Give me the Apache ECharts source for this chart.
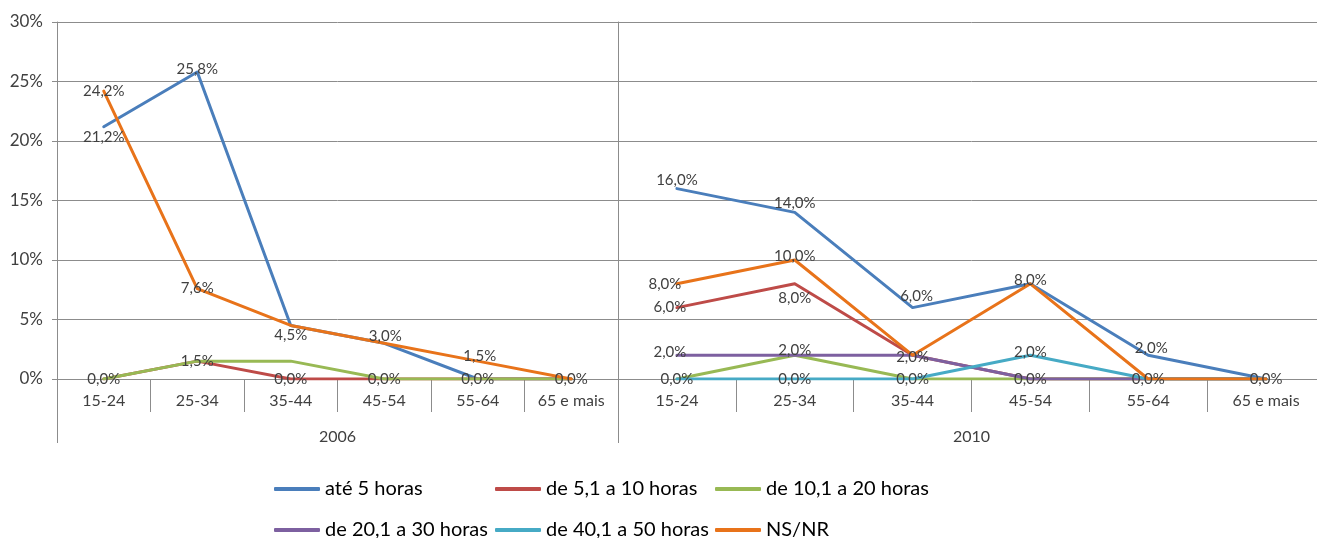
<!DOCTYPE html>
<html>
<head>
<meta charset="utf-8">
<title>Horas por faixa etária — 2006 e 2010</title>
<script src="https://cdn.jsdelivr.net/npm/echarts@6/dist/echarts.min.js"></script>
<style>
  html, body { margin: 0; padding: 0; background: #ffffff; overflow: hidden; }
  /* the 2010 panel runs a few pixels past the right edge of the window */
  #chart { width: 1326px; height: 538px; }
</style>
</head>
<body>
<div id="chart"></div>
<script>
// Age groups (shared by both years)
const ageGroups = ['15-24', '25-34', '35-44', '45-54', '55-64', '65 e mais'];
const years = ['2006', '2010'];
const seriesNames = ['até 5 horas', 'de 5,1 a 10 horas', 'de 10,1 a 20 horas',
                     'de 20,1 a 30 horas', 'de 40,1 a 50 horas', 'NS/NR'];

// Percent values per series, 2006
const ate5_2006    = [21.2, 25.8, 4.5, 3.0, 0.0, 0.0];
const de5a10_2006  = [0.0, 1.5, 0.0, 0.0, 0.0, 0.0];
const de10a20_2006 = [0.0, 1.5, 1.5, 0.0, 0.0, 0.0];
const de20a30_2006 = [null, null, null, null, null, null];
const de40a50_2006 = [null, null, null, null, null, null];
const nsnr_2006    = [24.2, 7.6, 4.5, 3.0, 1.5, 0.0];

// Percent values per series, 2010
const ate5_2010    = [16.0, 14.0, 6.0, 8.0, 2.0, 0.0];
const de5a10_2010  = [6.0, 8.0, 2.0, 0.0, 0.0, 0.0];
const de10a20_2010 = [0.0, 2.0, 0.0, 0.0, 0.0, 0.0];
const de20a30_2010 = [2.0, 2.0, 2.0, 0.0, 0.0, 0.0];
const de40a50_2010 = [0.0, 0.0, 0.0, 2.0, 0.0, 0.0];
const nsnr_2010    = [8.0, 10.0, 2.0, 8.0, 0.0, 0.0];

// Y axis ticks (percent)
const yTicks = [0, 5, 10, 15, 20, 25, 30];

const valuesByYear = [
  [ate5_2006, de5a10_2006, de10a20_2006, de20a30_2006, de40a50_2006, nsnr_2006],
  [ate5_2010, de5a10_2010, de10a20_2010, de20a30_2010, de40a50_2010, nsnr_2010]
];

const colors = ['#4A7EBB', '#BE4B48', '#98B954', '#7D60A0', '#46AAC5', '#E8731A'];
const labelled = [true, true, false, true, true, true];

// Layout of the two panels
const TOP = 22, PLOT_H = 357;
const P1_LEFT = 57, P1_W = 561;
const P2_LEFT = 618, P2_W = 707;
const AXIS_EXT = 64;          // how far the panel borders run below the axis
const FONT = 'Lato, "Open Sans", sans-serif';
const AXIS_GRAY = '#8C8C8C';
const TEXT_GRAY = '#404040';

// Nudges for data labels that would otherwise collide, keyed "year:index:value"
const labelNudge = {
  '0:0:21.2': [0, 10], '0:1:25.8': [0, -3], '0:2:4.5': [0, 10], '0:3:3': [1, -7],
  '0:4:1.5': [2, -5],
  '1:0:16': [0, -8], '1:1:14': [0, -9], '1:2:6': [4, -11], '1:3:8': [0, -4],
  '1:4:2': [3, -7], '1:0:8': [-12, 0], '1:1:10': [0, -4], '1:2:2': [0, 2],
  '1:0:6': [-7, 0], '1:0:2': [-7, -3], '1:1:2': [0, -5], '1:3:2': [0, -3]
};
// Red series 8,0% at 25-34 sits below its point
const seriesNudge = { '1:1:1:8': [0, 14] };

function fmt(v) { return v.toFixed(1).replace('.', ',') + '%'; }

const series = [];
years.forEach((yr, g) => {
  const shown = new Set();   // one label per coinciding point
  valuesByYear[g].forEach((vals, s) => {
    if (vals.every(v => v === null)) return;
    series.push({
      name: seriesNames[s],
      type: 'line',
      xAxisIndex: g,
      yAxisIndex: g,
      symbol: 'circle',
      symbolSize: 0.1,
      showSymbol: true,
      lineStyle: { width: 3, color: colors[s], cap: 'round', join: 'round' },
      itemStyle: { color: colors[s] },
      emphasis: { disabled: true },
      animation: false,
      label: {
        show: false,
        position: 'inside',
        color: TEXT_GRAY,
        fontFamily: FONT,
        fontSize: 15,
        formatter: p => (p.value == null ? '' : fmt(p.value))
      },
      data: vals.map((v, i) => {
        const pointKey = g + ':' + i + ':' + v;
        let show = labelled[s] && v !== null && !shown.has(pointKey);
        if (show) shown.add(pointKey);
        const off = seriesNudge[g + ':' + s + ':' + i + ':' + v] || labelNudge[pointKey] || [0, 0];
        return { value: v, label: { show: show, offset: off } };
      })
    });
  });
});

function xAxisFor(g, yr) {
  return {
    type: 'category',
    gridIndex: g,
    data: ageGroups,
    boundaryGap: true,
    name: yr,
    nameLocation: 'middle',
    nameGap: 50,
    nameTextStyle: { color: TEXT_GRAY, fontFamily: FONT, fontSize: 16 },
    axisLine: { show: true, lineStyle: { color: AXIS_GRAY, width: 1 } },
    axisTick: { show: true, interval: 0, length: 33, lineStyle: { color: AXIS_GRAY } },
    axisLabel: { interval: 0, color: TEXT_GRAY, fontFamily: FONT, fontSize: 16, margin: 14 },
    splitLine: { show: false }
  };
}

function yAxisFor(g) {
  return {
    type: 'value',
    gridIndex: g,
    min: yTicks[0],
    max: yTicks[yTicks.length - 1],
    interval: 5,
    axisLine: { show: true, lineStyle: { color: AXIS_GRAY, width: 1 } },
    axisTick: { show: g === 0, length: 5, lineStyle: { color: AXIS_GRAY } },
    axisLabel: {
      show: g === 0, color: TEXT_GRAY, fontFamily: FONT, fontSize: 17, margin: 14,
      formatter: v => v + '%'
    },
    splitLine: { show: true, lineStyle: { color: AXIS_GRAY, width: 1 } }
  };
}

// One legend entry per component so the two rows line up in three columns
const legendCols = [274, 495, 715];
const legendRows = [477, 518];
function legendAt(idx) {
  return {
    left: legendCols[idx % 3],
    top: legendRows[Math.floor(idx / 3)],
    data: [seriesNames[idx]],
    icon: 'roundRect',
    itemWidth: 46, itemHeight: 4,
    padding: 0,
    textStyle: { color: '#000000', fontFamily: FONT, fontSize: 20, lineHeight: 24 },
    selectedMode: false
  };
}

const baseY = TOP + PLOT_H;
const chart = echarts.init(document.getElementById('chart'), null, { renderer: 'canvas' });
chart.setOption({
  backgroundColor: '#ffffff',
  animation: false,
  grid: [
    { left: P1_LEFT, top: TOP, width: P1_W, height: PLOT_H },
    { left: P2_LEFT, top: TOP, width: P2_W, height: PLOT_H }
  ],
  xAxis: [xAxisFor(0, years[0]), xAxisFor(1, years[1])],
  yAxis: [yAxisFor(0), yAxisFor(1)],
  legend: seriesNames.map((n, i) => legendAt(i)),
  graphic: [
    { type: 'line', silent: true,
      shape: { x1: P1_LEFT + 0.5, y1: baseY, x2: P1_LEFT + 0.5, y2: baseY + AXIS_EXT },
      style: { stroke: AXIS_GRAY, lineWidth: 1 } },
    { type: 'line', silent: true,
      shape: { x1: P2_LEFT + 0.5, y1: baseY, x2: P2_LEFT + 0.5, y2: baseY + AXIS_EXT },
      style: { stroke: AXIS_GRAY, lineWidth: 1 } }
  ],
  series: series
});
</script>
</body>
</html>
